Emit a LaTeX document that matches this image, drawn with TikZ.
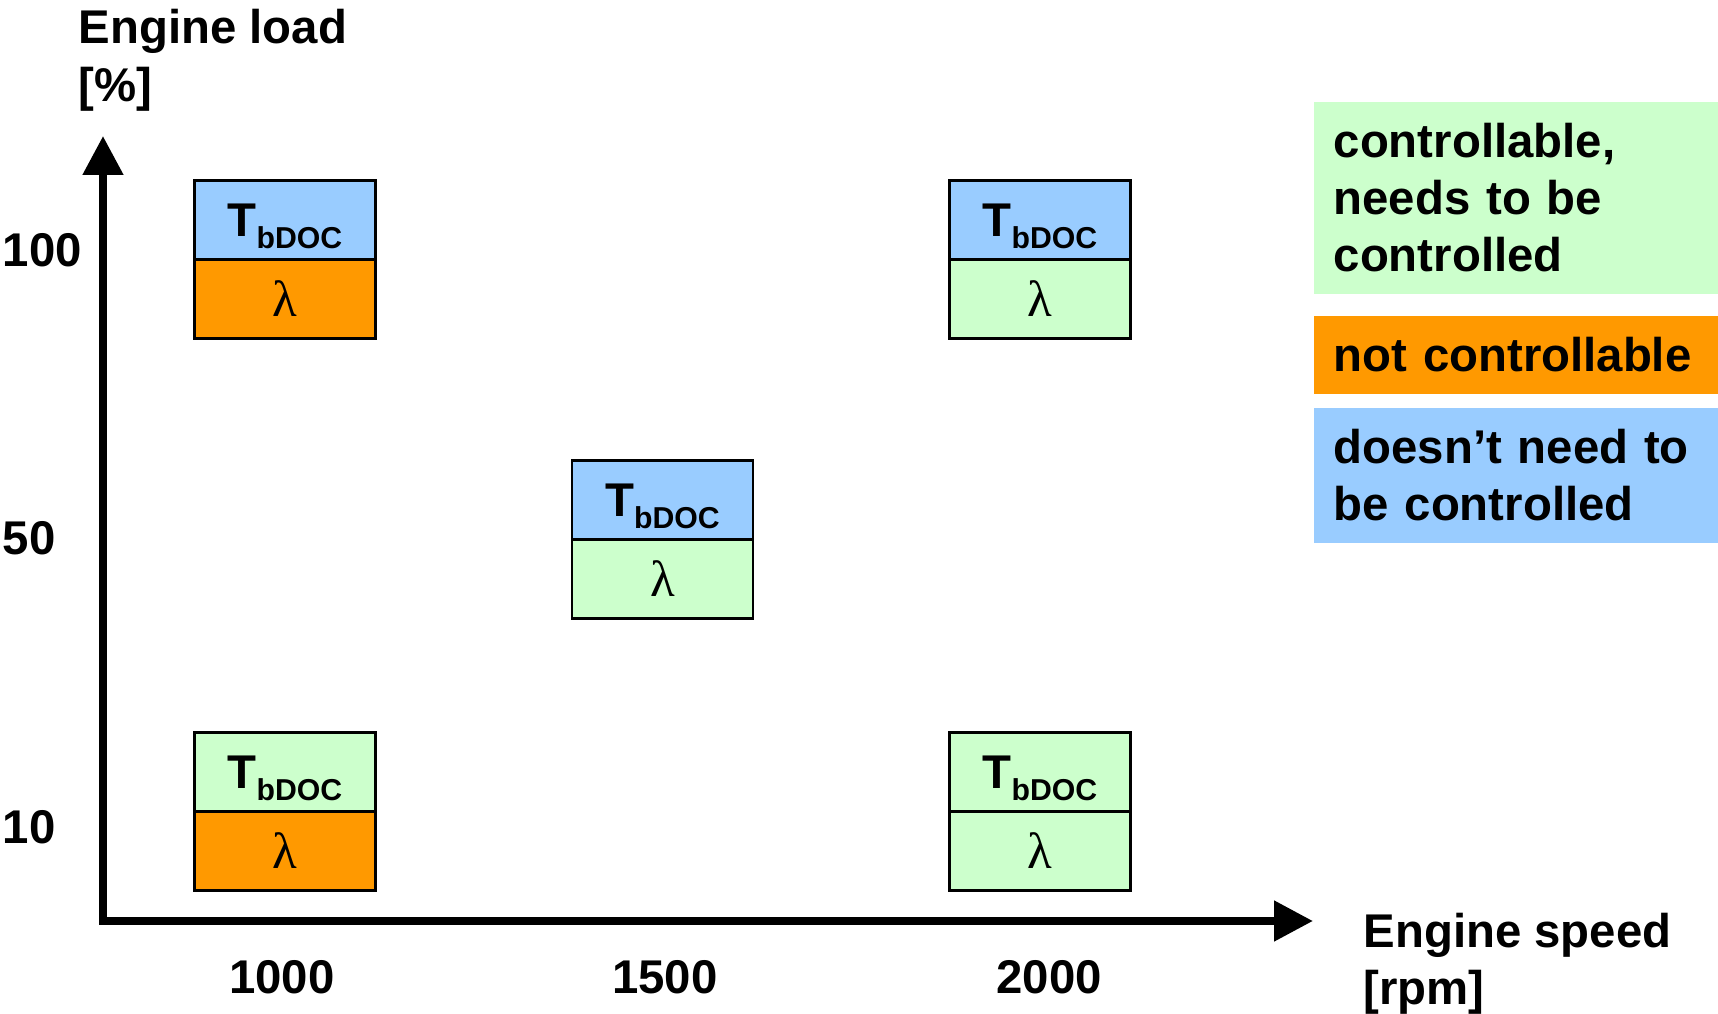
\documentclass[tikz,border=0pt]{standalone}
\usepackage{fontspec}
\setmainfont{Liberation Sans}
\newfontfamily\greekfont{Liberation Serif}
\usetikzlibrary{arrows.meta,positioning}

\definecolor{ctrl}{HTML}{CCFFCC}
\definecolor{noctrl}{HTML}{FF9900}
\definecolor{noneed}{HTML}{99CCFF}

\newcommand{\Tb}{T\raisebox{-3.4pt}[0pt][0pt]{\fontsize{8.6pt}{10pt}\selectfont bDOC}}
\newcommand{\lam}{{\greekfont\mdseries\fontsize{14.5pt}{16pt}\selectfont λ}}

\begin{document}
\begin{tikzpicture}[
    font=\fontsize{13.47pt}{16.3pt}\selectfont\bfseries,
    cell/.style={draw, line width=0.8pt, minimum width=1.81cm, minimum height=0.79cm,
      inner sep=0pt, outer sep=0pt},
    keybox/.style={anchor=north west, minimum width=4.05cm, text width=3.65cm,
      inner xsep=0.2cm, inner ysep=0pt, align=left},
    axis/.style={line width=0.08cm,
      {Triangle[length=0.39cm,width=0.39cm]}-{Triangle[length=0.39cm,width=0.39cm]}}
  ]
  \useasboundingbox (0,0) rectangle (17.18,10.13);

  \coordinate (o) at (1.03,0.92);
  \coordinate (ytop) at (1.03,8.77);
  \coordinate (xend) at (13.13,0.92);
  \draw[axis] (ytop) -- (o) -- (xend);

  \node[anchor=north west, inner sep=0pt, align=left] (ylab) at (0.78,10.04) {Engine load\\{}[\%]};
  \node[anchor=north west, inner sep=0pt, align=left] (xlab) at (13.63,1.01) {Engine speed\\{}[rpm]};

  \begin{scope}[inner sep=0pt]
    \node[anchor=base west] (y100) at (0.02,7.46) {100};
    \node[anchor=base west] (y50) at (0.02,4.58) {50};
    \node[anchor=base west] (y10) at (0.02,1.70) {10};
    \node[anchor=base] (x1000) at (2.82,0.20) {1000};
    \node[anchor=base] (x1500) at (6.65,0.20) {1500};
    \node[anchor=base] (x2000) at (10.49,0.20) {2000};
  \end{scope}

  \node[cell, fill=noneed] (t1) at (2.85,7.93) {\Tb};
  \node[cell, fill=noctrl, below=0pt of t1] (l1) {\lam};
  \node[cell, fill=noneed] (t2) at (6.625,5.13) {\Tb};
  \node[cell, fill=ctrl, below=0pt of t2] (l2) {\lam};
  \node[cell, fill=noneed] (t3) at (10.40,7.93) {\Tb};
  \node[cell, fill=ctrl, below=0pt of t3] (l3) {\lam};
  \node[cell, fill=ctrl] (t4) at (2.85,2.41) {\Tb};
  \node[cell, fill=noctrl, below=0pt of t4] (l4) {\lam};
  \node[cell, fill=ctrl] (t5) at (10.40,2.41) {\Tb};
  \node[cell, fill=ctrl, below=0pt of t5] (l5) {\lam};

  \node[keybox, fill=ctrl, minimum height=1.92cm] (k1) at (13.13,9.12) {controllable,\\needs to be\\controlled};
  \node[keybox, fill=noctrl, minimum height=0.78cm] (k2) at (13.13,6.98) {not controllable};
  \node[keybox, fill=noneed, minimum height=1.35cm] (k3) at (13.13,6.06) {doesn’t need to\\be controlled};
\end{tikzpicture}
\end{document}
